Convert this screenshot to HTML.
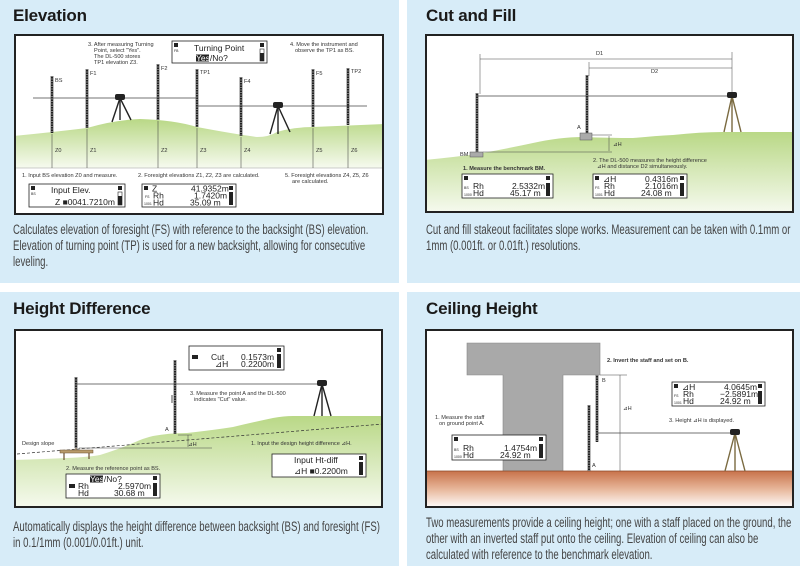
<!DOCTYPE html>
<html><head><meta charset="utf-8">
<style>
*{margin:0;padding:0;box-sizing:border-box}
body{width:800px;height:566px;background:#fff;position:relative;overflow:hidden;font-family:"Liberation Sans",sans-serif}
.p{position:absolute;background:#d7ecf8}
.t{position:absolute;font-weight:bold;font-size:17px;color:#1a1a1a;letter-spacing:-0.2px}
.b{position:absolute;border:2px solid #222;background:#fff;overflow:hidden}
.b svg{position:absolute;left:-2px;top:-2px}
.c{position:absolute;font-family:"Liberation Sans",sans-serif;font-size:13.5px;line-height:16px;color:#444;white-space:nowrap;transform:scaleX(0.71);transform-origin:0 0}
svg text{font-family:"Liberation Sans",sans-serif}
.a{font-size:5.6px;fill:#333}
.d{font-size:8.5px;fill:#222}
.s{font-size:3.5px;fill:#222}
</style></head><body>
<svg width="0" height="0" style="position:absolute">
<defs>
<linearGradient id="g1" x1="0" y1="0" x2="0" y2="1"><stop offset="0" stop-color="#b9d886"/><stop offset="1" stop-color="#f6faef"/></linearGradient>
<linearGradient id="br" x1="0" y1="0" x2="0" y2="1"><stop offset="0" stop-color="#c8724a"/><stop offset="0.5" stop-color="#e8b89c"/><stop offset="1" stop-color="#fff"/></linearGradient>
</defs></svg>

<!-- Panel 1 -->
<div class="p" style="left:0;top:0;width:399px;height:283px"></div>
<div class="t" style="left:13px;top:6px">Elevation</div>
<div class="b" style="left:14px;top:34px;width:370px;height:181px">
<svg width="370" height="181" viewBox="0 0 370 181">
<path d="M0,102 Q40,98 73,94 Q100,86 126,85 Q160,86 183,93 Q220,100 243,103 Q255,103 263,98 Q280,93 299,93 L370,90 L370,134 L0,134 Z" fill="url(#g1)"/>
<line x1="0" y1="134" x2="370" y2="134" stroke="#999" stroke-width="0.6"/>
<g stroke="#222" stroke-width="2.6">
<line x1="38" y1="42" x2="38" y2="99"/><line x1="73" y1="35" x2="73" y2="94"/><line x1="144" y1="30" x2="144" y2="86"/><line x1="183" y1="35" x2="183" y2="93"/><line x1="227" y1="43" x2="227" y2="102"/><line x1="299" y1="35" x2="299" y2="93"/><line x1="334" y1="34" x2="334" y2="91"/>
</g>
<g stroke="#fff" stroke-width="0.8" stroke-dasharray="1 1.5">
<line x1="38" y1="42" x2="38" y2="99"/><line x1="73" y1="35" x2="73" y2="94"/><line x1="144" y1="30" x2="144" y2="86"/><line x1="183" y1="35" x2="183" y2="93"/><line x1="227" y1="43" x2="227" y2="102"/><line x1="299" y1="35" x2="299" y2="93"/><line x1="334" y1="34" x2="334" y2="91"/>
</g>
<g stroke="#333" stroke-width="0.5">
<line x1="38" y1="100" x2="38" y2="134"/><line x1="73" y1="95" x2="73" y2="134"/><line x1="144" y1="87" x2="144" y2="134"/><line x1="183" y1="94" x2="183" y2="134"/><line x1="227" y1="103" x2="227" y2="134"/><line x1="299" y1="94" x2="299" y2="134"/><line x1="334" y1="92" x2="334" y2="134"/>
</g>
<line x1="19" y1="64" x2="183" y2="64" stroke="#444" stroke-width="0.8"/>
<line x1="183" y1="72" x2="353" y2="72" stroke="#444" stroke-width="0.8"/>
<g stroke="#222" stroke-width="1.4"><line x1="106" y1="64" x2="98" y2="88"/><line x1="106" y1="64" x2="106" y2="86"/><line x1="106" y1="64" x2="117" y2="86"/>
<line x1="264" y1="72" x2="256" y2="100"/><line x1="264" y1="72" x2="264" y2="100"/><line x1="264" y1="72" x2="276" y2="98"/></g>
<rect x="101" y="60" width="10" height="6" rx="2" fill="#222"/><rect x="259" y="68" width="10" height="6" rx="2" fill="#222"/>
<g class="a"><text x="41" y="48">BS</text><text x="76" y="41">F1</text><text x="147" y="36">F2</text><text x="186" y="40">TP1</text><text x="230" y="49">F4</text><text x="302" y="41">F5</text><text x="337" y="39">TP2</text>
<text x="41" y="118">Z0</text><text x="76" y="118">Z1</text><text x="147" y="118">Z2</text><text x="186" y="118">Z3</text><text x="230" y="118">Z4</text><text x="302" y="118">Z5</text><text x="337" y="118">Z6</text>
<text x="74" y="12">3.  After measuring Turning</text><text x="80" y="18">Point, select  "Yes".</text><text x="80" y="24">The DL-500 stores</text><text x="80" y="30">TP1 elevation Z3.</text>
<text x="276" y="12">4. Move the instrument and</text><text x="281" y="18">observe the TP1 as BS.</text>
<text x="8" y="143">1. Input BS elevation Z0 and measure.</text><text x="124" y="143">2. Foresight elevations Z1, Z2, Z3 are calculated.</text>
<text x="271" y="143">5. Foresight elevations Z4, Z5, Z6</text><text x="278" y="149">are calculated.</text></g>
<g transform="translate(158,7)"><rect width="95" height="22" fill="#fff" stroke="#222" stroke-width="0.8"/><rect x="2" y="2" width="4" height="4" fill="#222"/><text class="s" x="2" y="11">FB</text><text class="d" x="22" y="10">Turning Point</text><rect x="24" y="13.5" width="13" height="7" fill="#222"/><text class="d" x="24" y="20" ><tspan fill="#fff">Yes</tspan>/No?</text><rect x="88" y="2" width="4" height="4" fill="#222"/><rect x="88" y="8" width="4" height="12" fill="#fff" stroke="#222" stroke-width="0.6"/><rect x="88" y="12" width="4" height="8" fill="#222"/></g>
<g transform="translate(15,150)"><rect width="96" height="23" fill="#fff" stroke="#222" stroke-width="0.8"/><rect x="2" y="2" width="4" height="4" fill="#222"/><text class="s" x="2" y="11">BS</text><text class="d" x="22" y="9">Input Elev.</text><text class="d" x="26" y="21">Z <tspan>■</tspan>0041.7210m</text><rect x="89" y="2" width="4" height="4" fill="#222"/><rect x="89" y="8" width="4" height="13" fill="#fff" stroke="#222" stroke-width="0.6"/><rect x="89" y="12" width="4" height="9" fill="#222"/></g>
<g transform="translate(128,150)"><rect width="94" height="23" fill="#fff" stroke="#222" stroke-width="0.8"/><rect x="2" y="2" width="4" height="4" fill="#222"/><text class="d" x="10" y="7.5">Z</text><text class="d" x="49" y="7.5">41.9352m</text><text class="s" x="3" y="14">FS</text><text class="d" x="11" y="14.5">Rh</text><text class="d" x="52" y="14.5">1.7420m</text><text class="s" x="2" y="21">1001</text><text class="d" x="11" y="21.5">Hd</text><text class="d" x="48" y="21.5">35.09    m</text><rect x="87" y="2" width="4" height="4" fill="#222"/><rect x="87" y="8" width="4" height="13" fill="#222"/></g>
</svg></div>
<div class="c" style="left:13px;top:222px">Calculates elevation of foresight (FS) with reference to the backsight (BS) elevation.<br>Elevation of turning point (TP) is used for a new backsight, allowing for consecutive<br>leveling.</div>

<!-- Panel 2 -->
<div class="p" style="left:407px;top:0;width:393px;height:283px"></div>
<div class="t" style="left:426px;top:6px">Cut and Fill</div>
<div class="b" style="left:425px;top:34px;width:369px;height:179px">
<svg width="369" height="179" viewBox="0 0 369 179">
<path d="M0,126 Q30,123 52,120 Q80,115 108,109 Q135,103 158,103 Q185,104 208,104 Q230,102 248,101 Q275,98 298,98 L369,98 L369,179 L0,179 Z" fill="url(#g1)"/>
<g stroke="#444" stroke-width="0.5"><line x1="55" y1="25" x2="307" y2="25"/><line x1="164" y1="34" x2="307" y2="34"/><line x1="55" y1="20" x2="55" y2="60"/><line x1="307" y1="18" x2="307" y2="62"/><line x1="164" y1="28" x2="164" y2="42"/>
<line x1="167" y1="101" x2="187" y2="101"/><line x1="58" y1="118" x2="187" y2="118"/><line x1="184" y1="102" x2="184" y2="117"/></g>
<line x1="52" y1="62" x2="307" y2="62" stroke="#444" stroke-width="0.8"/>
<line x1="52" y1="59" x2="52" y2="118" stroke="#222" stroke-width="2.6"/><line x1="52" y1="59" x2="52" y2="118" stroke="#fff" stroke-width="0.8" stroke-dasharray="1 1.5"/>
<line x1="162" y1="41" x2="162" y2="99" stroke="#222" stroke-width="2.6"/><line x1="162" y1="41" x2="162" y2="99" stroke="#fff" stroke-width="0.8" stroke-dasharray="1 1.5"/>
<rect x="45" y="118" width="13" height="5" fill="#aaa" stroke="#555" stroke-width="0.5"/><rect x="155" y="99" width="12" height="7" fill="#aaa" stroke="#555" stroke-width="0.5"/>
<g stroke="#7a6a40" stroke-width="1.4"><line x1="307" y1="62" x2="299" y2="98"/><line x1="307" y1="62" x2="307" y2="98"/><line x1="307" y1="62" x2="316" y2="98"/></g>
<rect x="302" y="58" width="10" height="6" rx="2" fill="#222"/>
<g class="a"><text x="171" y="21">D1</text><text x="226" y="39">D2</text><text x="152" y="95">A</text><text x="188" y="112">⊿H</text><text x="35" y="122">BM</text>
<text x="168" y="128">2. The DL-500 measures the height difference</text><text x="172" y="134">⊿H and distance D2 simultaneously.</text>
<text x="38" y="136" font-weight="bold">1. Measure the benchmark BM.</text></g>
<g transform="translate(37,140)"><rect width="91" height="24" fill="#fff" stroke="#222" stroke-width="0.8"/><rect x="2" y="2" width="4" height="4" fill="#222"/><text class="s" x="2" y="15">BS</text><text class="d" x="11" y="15">Rh</text><text class="d" x="50" y="15">2.5332m</text><text class="s" x="2" y="22">1000</text><text class="d" x="11" y="22">Hd</text><text class="d" x="48" y="22">45.17   m</text><rect x="84" y="2" width="4" height="4" fill="#222"/><rect x="84" y="9" width="4" height="13" fill="#222"/></g>
<g transform="translate(168,140)"><rect width="94" height="24" fill="#fff" stroke="#222" stroke-width="0.8"/><rect x="2" y="2" width="4" height="4" fill="#222"/><text class="d" x="10" y="8">⊿H</text><text class="d" x="52" y="8">0.4316m</text><text class="s" x="2" y="15">FS</text><text class="d" x="11" y="15">Rh</text><text class="d" x="52" y="15">2.1016m</text><text class="s" x="2" y="22">1001</text><text class="d" x="11" y="22">Hd</text><text class="d" x="48" y="22">24.08    m</text><rect x="87" y="2" width="4" height="4" fill="#222"/><rect x="87" y="9" width="4" height="13" fill="#222"/></g>
</svg></div>
<div class="c" style="left:426px;top:222px">Cut and fill stakeout facilitates slope works. Measurement can be taken with 0.1mm or<br>1mm (0.001ft. or 0.01ft.) resolutions.</div>

<!-- Panel 3 -->
<div class="p" style="left:0;top:292px;width:399px;height:274px"></div>
<div class="t" style="left:13px;top:299px">Height Difference</div>
<div class="b" style="left:14px;top:329px;width:369px;height:179px">
<svg width="369" height="179" viewBox="0 0 369 179">
<path d="M0,131 Q30,130 53,129 Q75,128 86,126 Q105,120 119,114 Q130,109 139,107 Q155,104 173,104 Q200,101 219,98 Q240,93 259,89 Q270,87 279,87 L369,87 L369,179 L0,179 Z" fill="url(#g1)"/>
<line x1="3" y1="125" x2="369" y2="95" stroke="#333" stroke-width="0.7" stroke-dasharray="3 2"/>
<rect x="46" y="121" width="33" height="3" fill="#b89a6a" stroke="#6a5030" stroke-width="0.5"/><g stroke="#6a5030" stroke-width="1.2"><line x1="50" y1="124" x2="50" y2="131"/><line x1="75" y1="124" x2="75" y2="130"/><line x1="62" y1="117" x2="62" y2="121"/></g>
<line x1="62" y1="48" x2="62" y2="119" stroke="#222" stroke-width="2.6"/><line x1="62" y1="48" x2="62" y2="119" stroke="#fff" stroke-width="0.8" stroke-dasharray="1 1.5"/>
<line x1="161" y1="31" x2="161" y2="105" stroke="#222" stroke-width="2.6"/><line x1="161" y1="31" x2="161" y2="105" stroke="#fff" stroke-width="0.8" stroke-dasharray="1 1.5"/>
<line x1="158" y1="66" x2="158" y2="74" stroke="#222" stroke-width="0.8"/>
<line x1="62" y1="55" x2="308" y2="55" stroke="#444" stroke-width="0.8"/>
<g stroke="#444" stroke-width="0.5"><line x1="65" y1="119" x2="198" y2="119"/><line x1="174" y1="106" x2="174" y2="118"/><line x1="164" y1="106" x2="178" y2="106"/></g>
<g stroke="#222" stroke-width="1.4"><line x1="308" y1="55" x2="300" y2="87"/><line x1="308" y1="55" x2="308" y2="87"/><line x1="308" y1="55" x2="317" y2="87"/></g>
<rect x="303" y="51" width="10" height="6" rx="2" fill="#222"/>
<g class="a"><text x="151" y="102">A</text><text x="174" y="117">⊿H</text><text x="8" y="116">Design slope</text><text x="176" y="66">3. Measure the point A and the DL-500</text><text x="180" y="72">indicates "Cut" value.</text><text x="237" y="116">1. Input the design height difference ⊿H.</text><text x="52" y="141">2. Measure the reference point as BS.</text></g>
<g transform="translate(175,17)"><rect width="95" height="24" fill="#fff" stroke="#222" stroke-width="0.8"/><rect x="3" y="9" width="6" height="4" fill="#222"/><text class="d" x="22" y="14">Cut</text><text class="d" x="52" y="14">0.1573m</text><text class="d" x="26" y="21">⊿H</text><text class="d" x="52" y="21">0.2200m</text><rect x="88" y="2" width="4" height="4" fill="#222"/><rect x="88" y="8" width="4" height="14" fill="#222"/></g>
<g transform="translate(258,125)"><rect width="94" height="23" fill="#fff" stroke="#222" stroke-width="0.8"/><text class="d" x="22" y="9">Input Ht-diff</text><text class="d" x="22" y="20">⊿H <tspan>■</tspan>0.2200m</text><rect x="87" y="2" width="4" height="4" fill="#222"/><rect x="87" y="8" width="4" height="13" fill="#222"/></g>
<g transform="translate(52,145)"><rect width="94" height="24" fill="#fff" stroke="#222" stroke-width="0.8"/><rect x="24" y="1.5" width="13" height="7" fill="#222"/><text class="d" x="24" y="8"><tspan fill="#fff">Yes</tspan>/No?</text><rect x="3" y="10" width="6" height="4" fill="#222"/><text class="d" x="12" y="15">Rh</text><text class="d" x="52" y="15">2.5970m</text><text class="d" x="12" y="22">Hd</text><text class="d" x="48" y="22">30.68    m</text><rect x="87" y="2" width="4" height="4" fill="#222"/><rect x="87" y="9" width="4" height="13" fill="#222"/></g>
</svg></div>
<div class="c" style="left:13px;top:519px">Automatically displays the height difference between backsight (BS) and foresight (FS)<br>in 0.1/1mm (0.001/0.01ft.) unit.</div>

<!-- Panel 4 -->
<div class="p" style="left:407px;top:292px;width:393px;height:274px"></div>
<div class="t" style="left:426px;top:299px">Ceiling Height</div>
<div class="b" style="left:425px;top:329px;width:369px;height:179px">
<svg width="369" height="179" viewBox="0 0 369 179">
<path d="M42,14 L175,14 L175,46 L138,46 L138,143 L78,143 L78,46 L42,46 Z" fill="#a9a9a9" stroke="#888" stroke-width="0.6"/>
<line x1="175" y1="46" x2="202" y2="46" stroke="#444" stroke-width="0.5"/>
<rect x="0" y="142" width="369" height="37" fill="url(#br)"/>
<line x1="0" y1="142" x2="369" y2="142" stroke="#8a4a2a" stroke-width="0.8"/>
<line x1="195" y1="46" x2="195" y2="142" stroke="#444" stroke-width="0.5"/>
<line x1="172" y1="104" x2="310" y2="104" stroke="#444" stroke-width="0.8"/>
<line x1="164" y1="76" x2="164" y2="142" stroke="#222" stroke-width="2.6"/><line x1="164" y1="76" x2="164" y2="142" stroke="#fff" stroke-width="0.8" stroke-dasharray="1 1.5"/>
<line x1="172" y1="46" x2="172" y2="113" stroke="#222" stroke-width="2.6"/><line x1="172" y1="46" x2="172" y2="113" stroke="#fff" stroke-width="0.8" stroke-dasharray="1 1.5"/>
<g stroke="#7a6a40" stroke-width="1.4"><line x1="310" y1="104" x2="300" y2="142"/><line x1="310" y1="104" x2="310" y2="142"/><line x1="310" y1="104" x2="320" y2="142"/></g>
<rect x="305" y="100" width="10" height="6" rx="2" fill="#222"/>
<g class="a"><text x="177" y="53">B</text><text x="167" y="138">A</text><text x="198" y="81">⊿H</text><text x="182" y="33" font-weight="bold">2. Invert the staff and set on B.</text><text x="244" y="93">3. Height  ⊿H is displayed.</text><text x="10" y="90">1. Measure the staff</text><text x="14" y="96">on ground point A.</text></g>
<g transform="translate(247,53)"><rect width="93" height="24" fill="#fff" stroke="#222" stroke-width="0.8"/><rect x="2" y="2" width="4" height="4" fill="#222"/><text class="d" x="10" y="8">⊿H</text><text class="d" x="52" y="8">4.0645m</text><text class="s" x="2" y="15">FS</text><text class="d" x="11" y="15">Rh</text><text class="d" x="48" y="15">−2.5891m</text><text class="s" x="2" y="22">1001</text><text class="d" x="11" y="22">Hd</text><text class="d" x="48" y="22">24.92    m</text><rect x="86" y="2" width="4" height="4" fill="#222"/><rect x="86" y="9" width="4" height="13" fill="#222"/></g>
<g transform="translate(27,106)"><rect width="94" height="25" fill="#fff" stroke="#222" stroke-width="0.8"/><rect x="2" y="2" width="4" height="4" fill="#222"/><text class="s" x="2" y="16">BS</text><text class="d" x="11" y="16">Rh</text><text class="d" x="52" y="16">1.4754m</text><text class="s" x="2" y="23">1000</text><text class="d" x="11" y="23">Hd</text><text class="d" x="48" y="23">24.92    m</text><rect x="87" y="2" width="4" height="4" fill="#222"/><rect x="87" y="9" width="4" height="14" fill="#222"/></g>
</svg></div>
<div class="c" style="left:426px;top:515px">Two measurements provide a ceiling height; one with a staff placed on the ground, the<br>other with an inverted staff put onto the ceiling. Elevation of ceiling can also be<br>calculated with reference to the benchmark elevation.</div>
</body></html>
